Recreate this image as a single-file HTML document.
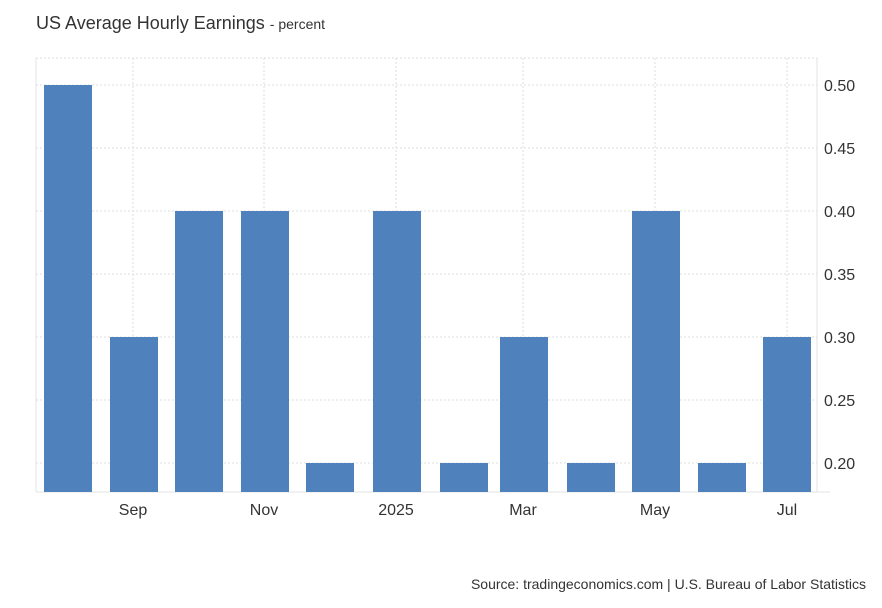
<!DOCTYPE html>
<html><head><meta charset="utf-8"><style>
body{margin:0;background:#fff;font-family:"Liberation Sans",Arial,sans-serif;}
</style></head><body>
<svg width="882" height="603" xmlns="http://www.w3.org/2000/svg" font-family="Liberation Sans, Arial, sans-serif">
<rect width="882" height="603" fill="#fff"/>
<text x="36" y="29" font-size="18" fill="#333">US Average Hourly Earnings <tspan font-size="14">- percent</tspan></text>
<g stroke="#ddd" stroke-width="1" stroke-dasharray="2,2">
<line x1="36" y1="58" x2="817" y2="58"/>
<line x1="36" y1="85" x2="817" y2="85"/>
<line x1="36" y1="148" x2="817" y2="148"/>
<line x1="36" y1="211" x2="817" y2="211"/>
<line x1="36" y1="274" x2="817" y2="274"/>
<line x1="36" y1="337" x2="817" y2="337"/>
<line x1="36" y1="400" x2="817" y2="400"/>
<line x1="36" y1="463" x2="817" y2="463"/>
<line x1="133" y1="58" x2="133" y2="492"/>
<line x1="264" y1="58" x2="264" y2="492"/>
<line x1="396" y1="58" x2="396" y2="492"/>
<line x1="523" y1="58" x2="523" y2="492"/>
<line x1="655" y1="58" x2="655" y2="492"/>
<line x1="787" y1="58" x2="787" y2="492"/>
</g>
<g stroke="#e3e3e3"><line x1="36" y1="58" x2="36" y2="492"/><line x1="817" y1="58" x2="817" y2="492"/><line x1="36" y1="492" x2="830" y2="492"/></g>
<g fill="#4f81bd">
<rect x="44" y="85" width="48" height="407"/>
<rect x="110" y="337" width="48" height="155"/>
<rect x="175" y="211" width="48" height="281"/>
<rect x="241" y="211" width="48" height="281"/>
<rect x="306" y="463" width="48" height="29"/>
<rect x="373" y="211" width="48" height="281"/>
<rect x="440" y="463" width="48" height="29"/>
<rect x="500" y="337" width="48" height="155"/>
<rect x="567" y="463" width="48" height="29"/>
<rect x="632" y="211" width="48" height="281"/>
<rect x="698" y="463" width="48" height="29"/>
<rect x="763" y="337" width="48" height="155"/>
</g>
<g font-size="16" fill="#333">
<text x="824" y="91">0.50</text><text x="824" y="154">0.45</text><text x="824" y="217">0.40</text>
<text x="824" y="280">0.35</text><text x="824" y="343">0.30</text><text x="824" y="406">0.25</text><text x="824" y="469">0.20</text>
</g>
<g font-size="16" fill="#333" text-anchor="middle">
<text x="133" y="515">Sep</text><text x="264" y="515">Nov</text><text x="396" y="515">2025</text>
<text x="523" y="515">Mar</text><text x="655" y="515">May</text><text x="787" y="515">Jul</text>
</g>
<text x="866" y="589" font-size="14" fill="#333" text-anchor="end">Source: tradingeconomics.com | U.S. Bureau of Labor Statistics</text>
</svg>
</body></html>
